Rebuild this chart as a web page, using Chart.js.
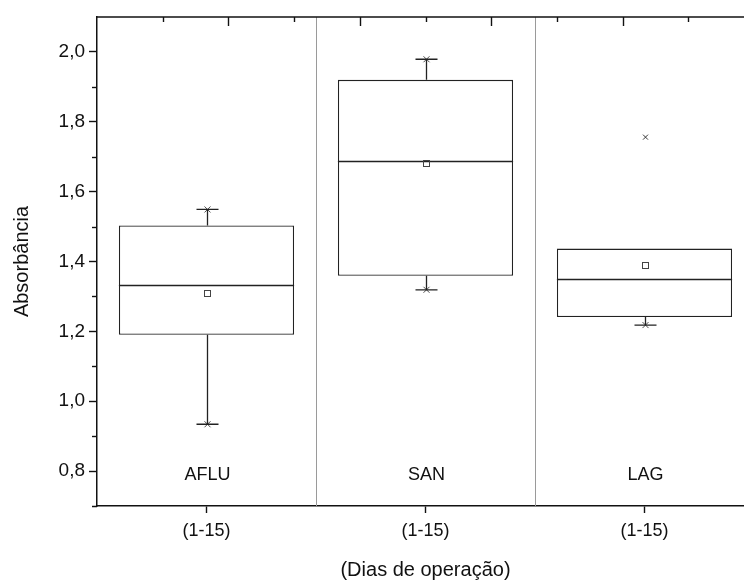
<!DOCTYPE html>
<html>
<head>
<meta charset="utf-8">
<script src="https://cdn.jsdelivr.net/npm/chart.js@4/dist/chart.umd.min.js"></script>
<style>
  html, body { margin: 0; padding: 0; background: #fff; overflow: hidden; }
  #wrap { position: relative; width: 757px; height: 580px; }
</style>
</head>
<body>
<div id="wrap"><canvas id="box-chart"></canvas></div>
<script>
const groups = ["AFLU", "SAN", "LAG"];
const tickLabels = ["(1-15)", "(1-15)", "(1-15)"];
const q1 = [1.19, 1.359, 1.241];
const q3 = [1.503, 1.92, 1.437];
const medians = [1.333, 1.688, 1.351];
const means = [1.31, 1.682, 1.391];
const whiskerLow = [0.934, 1.319, 1.218];
const whiskerHigh = [1.549, 1.979, 1.437];
const outliers = [[], [], [1.756]];

const FONT = "'Liberation Sans', Arial, sans-serif";
const INK = "#222";

function fmt(v) {
  return v.toFixed(1).replace(".", ",");
}

function cross(ctx, px, py, r) {
  ctx.beginPath();
  ctx.moveTo(px - r, py - r);
  ctx.lineTo(px + r, py + r);
  ctx.moveTo(px + r, py - r);
  ctx.lineTo(px - r, py + r);
  ctx.stroke();
}

// whiskers, medians, means, frame ticks and group names
const boxPlot = {
  id: "boxPlot",
  beforeDatasetsDraw(chart) {
    const { ctx, chartArea, scales } = chart;
    const x = scales.x;
    ctx.save();
    ctx.strokeStyle = "#9a9a9a";
    ctx.lineWidth = 1;
    for (let i = 0; i < groups.length - 1; i++) {
      const px = Math.round(x.getPixelForValue(i + 0.5)) + 0.5;
      ctx.beginPath();
      ctx.moveTo(px, chartArea.top);
      ctx.lineTo(px, chartArea.bottom);
      ctx.stroke();
    }
    ctx.restore();
  },
  afterDatasetsDraw(chart) {
    const { ctx, chartArea, scales } = chart;
    const { x, y } = scales;
    const bars = chart.getDatasetMeta(0).data;
    ctx.save();
    ctx.strokeStyle = INK;
    ctx.lineWidth = 1.3;

    groups.forEach((name, i) => {
      const cx = Math.round(x.getPixelForValue(i)) + 0.5;
      const half = bars[i].width / 2;

      // whiskers with caps and end markers
      [[q3[i], whiskerHigh[i]], [q1[i], whiskerLow[i]]].forEach(([from, to]) => {
        if (Math.abs(to - from) < 1e-6) return;
        const py = y.getPixelForValue(to);
        ctx.lineWidth = 1.3;
        ctx.beginPath();
        ctx.moveTo(cx, y.getPixelForValue(from));
        ctx.lineTo(cx, py);
        ctx.moveTo(cx - 11, py);
        ctx.lineTo(cx + 11, py);
        ctx.stroke();
        ctx.lineWidth = 0.8;
        cross(ctx, cx, py, 3);
      });

      // median
      const my = Math.round(y.getPixelForValue(medians[i])) + 0.5;
      ctx.lineWidth = 1.3;
      ctx.beginPath();
      ctx.moveTo(bars[i].x - half, my);
      ctx.lineTo(bars[i].x + half, my);
      ctx.stroke();

      // mean
      ctx.lineWidth = 1;
      ctx.strokeStyle = "#444";
      const ay = Math.round(y.getPixelForValue(means[i])) + 0.5;
      ctx.strokeRect(cx - 3, ay - 3, 6, 6);
      ctx.strokeStyle = INK;

      // outliers
      outliers[i].forEach(v => {
        ctx.lineWidth = 0.9;
        cross(ctx, cx, y.getPixelForValue(v), 2.5);
      });

      // group name inside the plot
      ctx.fillStyle = "#111";
      ctx.font = "18px " + FONT;
      ctx.textAlign = "center";
      ctx.textBaseline = "middle";
      ctx.fillText(name, cx, chartArea.bottom - 31);
    });

    // top frame with inward ticks, ten divisions across the category range
    ctx.strokeStyle = "#111";
    ctx.lineWidth = 1.5;
    ctx.beginPath();
    ctx.moveTo(chartArea.left, chartArea.top);
    ctx.lineTo(chartArea.right, chartArea.top);
    ctx.stroke();
    ctx.lineWidth = 1.4;
    for (let k = 1; k < 10; k++) {
      const px = Math.round(x.getPixelForValue(-0.5 + 0.3 * k)) + 0.5;
      ctx.beginPath();
      ctx.moveTo(px, chartArea.top);
      ctx.lineTo(px, chartArea.top + (k % 2 === 0 ? 9 : 5));
      ctx.stroke();
    }

    // minor ticks on the value axis
    ctx.lineWidth = 1.4;
    for (let v = 0.9; v < 2.05; v += 0.2) {
      const py = Math.round(y.getPixelForValue(v)) + 0.5;
      ctx.beginPath();
      ctx.moveTo(chartArea.left - 5, py);
      ctx.lineTo(chartArea.left, py);
      ctx.stroke();
    }

    // bottom axis line runs a little past the value axis
    ctx.lineWidth = 1.5;
    ctx.beginPath();
    ctx.moveTo(chartArea.left - 5, chartArea.bottom + 0.5);
    ctx.lineTo(chartArea.left, chartArea.bottom + 0.5);
    ctx.stroke();
    ctx.restore();
  }
};

new Chart(document.getElementById("box-chart"), {
  type: "bar",
  data: {
    labels: tickLabels,
    datasets: [{
      data: q1.map((lo, i) => [lo, q3[i]]),
      backgroundColor: "#fff",
      borderColor: INK,
      borderWidth: 1.3,
      borderSkipped: false,
      barPercentage: 0.8,
      categoryPercentage: 1
    }]
  },
  options: {
    responsive: true,
    maintainAspectRatio: false,
    animation: false,
    events: [],
    layout: { padding: { top: 17, right: 3, left: 0, bottom: 0 } },
    plugins: { legend: { display: false }, tooltip: { enabled: false } },
    scales: {
      x: {
        position: "bottom",
        grid: { display: true, drawOnChartArea: false, offset: false, tickLength: 7, tickColor: "#111", tickWidth: 1.4 },
        border: { display: true, color: "#111", width: 1.5 },
        ticks: { color: "#111", font: { family: FONT, size: 18 }, padding: 7, maxRotation: 0 },
        title: { display: true, text: "(Dias de operação)", color: "#111", font: { family: FONT, size: 20, lineHeight: 1 }, padding: { top: 0, bottom: 0 } },
        afterFit(scale) { scale.height = 74; }
      },
      y: {
        min: 0.7,
        max: 2.1,
        grid: {
          display: true,
          drawOnChartArea: false,
          tickLength: 8,
          tickWidth: 1.4,
          tickColor: ctx => (Math.round(ctx.tick.value * 10) % 2 === 0 ? "#111" : "rgba(0,0,0,0)")
        },
        border: { display: true, color: "#111", width: 1.5 },
        ticks: {
          stepSize: 0.1,
          color: "#111",
          font: { family: FONT, size: 19 },
          padding: 4,
          callback: v => {
            const n = Math.round(v * 10);
            return n % 2 === 0 && n >= 8 && n <= 20 ? fmt(v) : "";
          }
        },
        title: { display: true, text: "Absorbância", color: "#111", font: { family: FONT, size: 20 }, padding: { top: 10, bottom: 0 } },
        afterFit(scale) { scale.width = 97; }
      }
    }
  },
  plugins: [boxPlot]
});
</script>
</body>
</html>
